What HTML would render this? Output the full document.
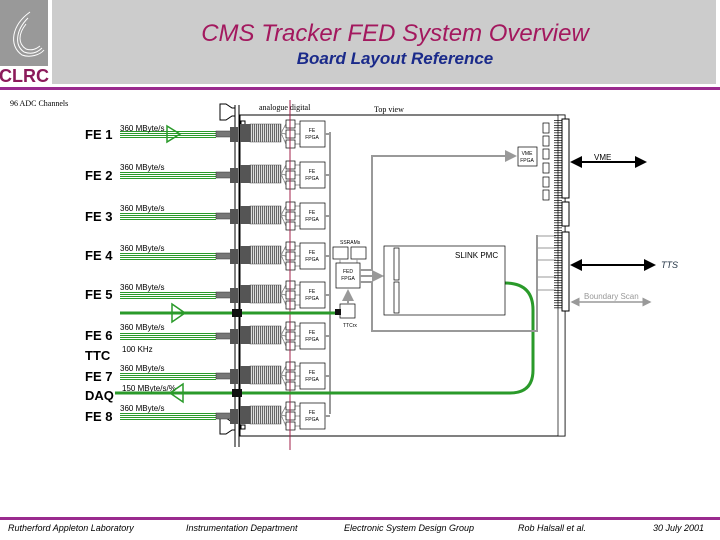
<!DOCTYPE html>
<html><head><meta charset="utf-8"><style>
body{margin:0;background:#fff;}
svg{display:block;font-family:"Liberation Sans",sans-serif;}
.g line{shape-rendering:crispEdges;}
</style></head><body>
<svg width="720" height="540" viewBox="0 0 720 540" xmlns="http://www.w3.org/2000/svg">
<defs>
<pattern id="hatch" width="2" height="4" patternUnits="userSpaceOnUse"><rect width="2" height="4" fill="#ddd"/><rect width="1" height="4" fill="#666"/></pattern>
<pattern id="ticks" width="8" height="2.5" patternUnits="userSpaceOnUse"><rect width="8" height="0.7" fill="#000"/></pattern>
<marker id="ag" markerWidth="6" markerHeight="6" refX="5" refY="3" orient="auto"><path d="M0,0L6,3L0,6z" fill="#999"/></marker>
<marker id="ak" markerWidth="6" markerHeight="6" refX="5" refY="3" orient="auto-start-reverse"><path d="M0,0L6,3L0,6z" fill="#000"/></marker>
<marker id="ag2" markerWidth="6" markerHeight="6" refX="5" refY="3" orient="auto-start-reverse"><path d="M0,0L6,3L0,6z" fill="#999"/></marker>
</defs>
<!-- header -->
<rect x="52" y="0" width="664" height="84" fill="#cccccc"/>
<rect x="0" y="0" width="48" height="66" fill="#999"/>
<g fill="none" stroke="#fff" stroke-width="1">
<path d="M30,12 C12,25 8,45 22,55 C30,58 40,55 44,50"/>
<path d="M28,18 C16,30 14,45 24,52 C32,55 38,52 42,48"/>
<path d="M26,24 C18,34 18,44 26,49 C32,51 36,49 40,46"/>
</g>
<text x="24" y="82" font-size="18" font-weight="bold" fill="#8b1a5a" text-anchor="middle">CLRC</text>
<text x="395" y="41" font-size="24" font-style="italic" fill="#a3185e" text-anchor="middle">CMS Tracker FED System Overview</text>
<text x="395" y="64" font-size="17" font-weight="bold" font-style="italic" fill="#1a2a8a" text-anchor="middle">Board Layout Reference</text>
<rect x="0" y="87" width="720" height="3" fill="#9a2a8e"/>
<text x="10" y="106" font-size="8" font-family="Liberation Serif,serif">96 ADC Channels</text>
<text x="259" y="110" font-size="8" font-family="Liberation Serif,serif">analogue  digital</text>
<text x="374" y="112" font-size="8" font-family="Liberation Serif,serif">Top view</text>
<!-- board -->
<rect x="240" y="115" width="325" height="321" fill="none" stroke="#000" stroke-width="1"/>
<line x1="235" y1="105" x2="235" y2="447" stroke="#000"/><line x1="239" y1="105" x2="239" y2="447" stroke="#000"/>
<path d="M220,104h6l6,4h3v8h-3l-6,4h-6z" fill="#fff" stroke="#000"/>
<path d="M220,418h6l6,4h3v8h-3l-6,4h-6z" fill="#fff" stroke="#000"/>
<rect x="241" y="121" width="4" height="4" fill="none" stroke="#000"/>
<rect x="241" y="425" width="4" height="4" fill="none" stroke="#000"/>
<line x1="330" y1="132" x2="330" y2="414" stroke="#999" stroke-width="2"/>
<!-- rows -->
<g class="g">
<g><line x1="120" x2="216" y1="131.5" y2="131.5" stroke="#2a9a2a"/><line x1="120" x2="216" y1="133.5" y2="133.5" stroke="#2a9a2a"/><line x1="120" x2="216" y1="135.5" y2="135.5" stroke="#2a9a2a"/><line x1="120" x2="216" y1="137.5" y2="137.5" stroke="#2a9a2a"/><rect x="216" y="131" width="16" height="6" fill="#777" stroke="#333" stroke-width=".5"/><rect x="230" y="127" width="8" height="15" fill="#555"/><rect x="240" y="124" width="10" height="18" fill="#555"/><rect x="250" y="124" width="31" height="18" fill="url(#hatch)" stroke="#555" stroke-width=".5"/><g stroke="#999"><line x1="281" x2="286" y1="133" y2="124"/><line x1="281" x2="286" y1="133" y2="134"/><line x1="281" x2="286" y1="133" y2="144"/><line x1="295" x2="300" y1="124" y2="124"/><line x1="295" x2="300" y1="134" y2="134"/><line x1="295" x2="300" y1="144" y2="144"/></g><g fill="#fff" stroke="#000" stroke-width=".7"><rect x="286" y="120" width="9" height="8"/><rect x="286" y="130" width="9" height="8"/><rect x="286" y="140" width="9" height="8"/></g><rect x="300" y="121" width="25" height="26" fill="#fff" stroke="#000" stroke-width=".7"/><text x="312" y="132" font-size="5" text-anchor="middle">FE</text><text x="312" y="139" font-size="5" text-anchor="middle">FPGA</text><line x1="325" x2="330" y1="134" y2="134" stroke="#999" stroke-width="2"/></g>
<g transform="translate(0,41)"><line x1="120" x2="216" y1="131.5" y2="131.5" stroke="#2a9a2a"/><line x1="120" x2="216" y1="133.5" y2="133.5" stroke="#2a9a2a"/><line x1="120" x2="216" y1="135.5" y2="135.5" stroke="#2a9a2a"/><line x1="120" x2="216" y1="137.5" y2="137.5" stroke="#2a9a2a"/><rect x="216" y="131" width="16" height="6" fill="#777" stroke="#333" stroke-width=".5"/><rect x="230" y="127" width="8" height="15" fill="#555"/><rect x="240" y="124" width="10" height="18" fill="#555"/><rect x="250" y="124" width="31" height="18" fill="url(#hatch)" stroke="#555" stroke-width=".5"/><g stroke="#999"><line x1="281" x2="286" y1="133" y2="124"/><line x1="281" x2="286" y1="133" y2="134"/><line x1="281" x2="286" y1="133" y2="144"/><line x1="295" x2="300" y1="124" y2="124"/><line x1="295" x2="300" y1="134" y2="134"/><line x1="295" x2="300" y1="144" y2="144"/></g><g fill="#fff" stroke="#000" stroke-width=".7"><rect x="286" y="120" width="9" height="8"/><rect x="286" y="130" width="9" height="8"/><rect x="286" y="140" width="9" height="8"/></g><rect x="300" y="121" width="25" height="26" fill="#fff" stroke="#000" stroke-width=".7"/><text x="312" y="132" font-size="5" text-anchor="middle">FE</text><text x="312" y="139" font-size="5" text-anchor="middle">FPGA</text><line x1="325" x2="330" y1="134" y2="134" stroke="#999" stroke-width="2"/></g>
<g transform="translate(0,82)"><line x1="120" x2="216" y1="131.5" y2="131.5" stroke="#2a9a2a"/><line x1="120" x2="216" y1="133.5" y2="133.5" stroke="#2a9a2a"/><line x1="120" x2="216" y1="135.5" y2="135.5" stroke="#2a9a2a"/><line x1="120" x2="216" y1="137.5" y2="137.5" stroke="#2a9a2a"/><rect x="216" y="131" width="16" height="6" fill="#777" stroke="#333" stroke-width=".5"/><rect x="230" y="127" width="8" height="15" fill="#555"/><rect x="240" y="124" width="10" height="18" fill="#555"/><rect x="250" y="124" width="31" height="18" fill="url(#hatch)" stroke="#555" stroke-width=".5"/><g stroke="#999"><line x1="281" x2="286" y1="133" y2="124"/><line x1="281" x2="286" y1="133" y2="134"/><line x1="281" x2="286" y1="133" y2="144"/><line x1="295" x2="300" y1="124" y2="124"/><line x1="295" x2="300" y1="134" y2="134"/><line x1="295" x2="300" y1="144" y2="144"/></g><g fill="#fff" stroke="#000" stroke-width=".7"><rect x="286" y="120" width="9" height="8"/><rect x="286" y="130" width="9" height="8"/><rect x="286" y="140" width="9" height="8"/></g><rect x="300" y="121" width="25" height="26" fill="#fff" stroke="#000" stroke-width=".7"/><text x="312" y="132" font-size="5" text-anchor="middle">FE</text><text x="312" y="139" font-size="5" text-anchor="middle">FPGA</text><line x1="325" x2="330" y1="134" y2="134" stroke="#999" stroke-width="2"/></g>
<g transform="translate(0,122)"><line x1="120" x2="216" y1="131.5" y2="131.5" stroke="#2a9a2a"/><line x1="120" x2="216" y1="133.5" y2="133.5" stroke="#2a9a2a"/><line x1="120" x2="216" y1="135.5" y2="135.5" stroke="#2a9a2a"/><line x1="120" x2="216" y1="137.5" y2="137.5" stroke="#2a9a2a"/><rect x="216" y="131" width="16" height="6" fill="#777" stroke="#333" stroke-width=".5"/><rect x="230" y="127" width="8" height="15" fill="#555"/><rect x="240" y="124" width="10" height="18" fill="#555"/><rect x="250" y="124" width="31" height="18" fill="url(#hatch)" stroke="#555" stroke-width=".5"/><g stroke="#999"><line x1="281" x2="286" y1="133" y2="124"/><line x1="281" x2="286" y1="133" y2="134"/><line x1="281" x2="286" y1="133" y2="144"/><line x1="295" x2="300" y1="124" y2="124"/><line x1="295" x2="300" y1="134" y2="134"/><line x1="295" x2="300" y1="144" y2="144"/></g><g fill="#fff" stroke="#000" stroke-width=".7"><rect x="286" y="120" width="9" height="8"/><rect x="286" y="130" width="9" height="8"/><rect x="286" y="140" width="9" height="8"/></g><rect x="300" y="121" width="25" height="26" fill="#fff" stroke="#000" stroke-width=".7"/><text x="312" y="132" font-size="5" text-anchor="middle">FE</text><text x="312" y="139" font-size="5" text-anchor="middle">FPGA</text><line x1="325" x2="330" y1="134" y2="134" stroke="#999" stroke-width="2"/></g>
<g transform="translate(0,161)"><line x1="120" x2="216" y1="131.5" y2="131.5" stroke="#2a9a2a"/><line x1="120" x2="216" y1="133.5" y2="133.5" stroke="#2a9a2a"/><line x1="120" x2="216" y1="135.5" y2="135.5" stroke="#2a9a2a"/><line x1="120" x2="216" y1="137.5" y2="137.5" stroke="#2a9a2a"/><rect x="216" y="131" width="16" height="6" fill="#777" stroke="#333" stroke-width=".5"/><rect x="230" y="127" width="8" height="15" fill="#555"/><rect x="240" y="124" width="10" height="18" fill="#555"/><rect x="250" y="124" width="31" height="18" fill="url(#hatch)" stroke="#555" stroke-width=".5"/><g stroke="#999"><line x1="281" x2="286" y1="133" y2="124"/><line x1="281" x2="286" y1="133" y2="134"/><line x1="281" x2="286" y1="133" y2="144"/><line x1="295" x2="300" y1="124" y2="124"/><line x1="295" x2="300" y1="134" y2="134"/><line x1="295" x2="300" y1="144" y2="144"/></g><g fill="#fff" stroke="#000" stroke-width=".7"><rect x="286" y="120" width="9" height="8"/><rect x="286" y="130" width="9" height="8"/><rect x="286" y="140" width="9" height="8"/></g><rect x="300" y="121" width="25" height="26" fill="#fff" stroke="#000" stroke-width=".7"/><text x="312" y="132" font-size="5" text-anchor="middle">FE</text><text x="312" y="139" font-size="5" text-anchor="middle">FPGA</text><line x1="325" x2="330" y1="134" y2="134" stroke="#999" stroke-width="2"/></g>
<g transform="translate(0,202)"><line x1="120" x2="216" y1="131.5" y2="131.5" stroke="#2a9a2a"/><line x1="120" x2="216" y1="133.5" y2="133.5" stroke="#2a9a2a"/><line x1="120" x2="216" y1="135.5" y2="135.5" stroke="#2a9a2a"/><line x1="120" x2="216" y1="137.5" y2="137.5" stroke="#2a9a2a"/><rect x="216" y="131" width="16" height="6" fill="#777" stroke="#333" stroke-width=".5"/><rect x="230" y="127" width="8" height="15" fill="#555"/><rect x="240" y="124" width="10" height="18" fill="#555"/><rect x="250" y="124" width="31" height="18" fill="url(#hatch)" stroke="#555" stroke-width=".5"/><g stroke="#999"><line x1="281" x2="286" y1="133" y2="124"/><line x1="281" x2="286" y1="133" y2="134"/><line x1="281" x2="286" y1="133" y2="144"/><line x1="295" x2="300" y1="124" y2="124"/><line x1="295" x2="300" y1="134" y2="134"/><line x1="295" x2="300" y1="144" y2="144"/></g><g fill="#fff" stroke="#000" stroke-width=".7"><rect x="286" y="120" width="9" height="8"/><rect x="286" y="130" width="9" height="8"/><rect x="286" y="140" width="9" height="8"/></g><rect x="300" y="121" width="25" height="26" fill="#fff" stroke="#000" stroke-width=".7"/><text x="312" y="132" font-size="5" text-anchor="middle">FE</text><text x="312" y="139" font-size="5" text-anchor="middle">FPGA</text><line x1="325" x2="330" y1="134" y2="134" stroke="#999" stroke-width="2"/></g>
<g transform="translate(0,242)"><line x1="120" x2="216" y1="131.5" y2="131.5" stroke="#2a9a2a"/><line x1="120" x2="216" y1="133.5" y2="133.5" stroke="#2a9a2a"/><line x1="120" x2="216" y1="135.5" y2="135.5" stroke="#2a9a2a"/><line x1="120" x2="216" y1="137.5" y2="137.5" stroke="#2a9a2a"/><rect x="216" y="131" width="16" height="6" fill="#777" stroke="#333" stroke-width=".5"/><rect x="230" y="127" width="8" height="15" fill="#555"/><rect x="240" y="124" width="10" height="18" fill="#555"/><rect x="250" y="124" width="31" height="18" fill="url(#hatch)" stroke="#555" stroke-width=".5"/><g stroke="#999"><line x1="281" x2="286" y1="133" y2="124"/><line x1="281" x2="286" y1="133" y2="134"/><line x1="281" x2="286" y1="133" y2="144"/><line x1="295" x2="300" y1="124" y2="124"/><line x1="295" x2="300" y1="134" y2="134"/><line x1="295" x2="300" y1="144" y2="144"/></g><g fill="#fff" stroke="#000" stroke-width=".7"><rect x="286" y="120" width="9" height="8"/><rect x="286" y="130" width="9" height="8"/><rect x="286" y="140" width="9" height="8"/></g><rect x="300" y="121" width="25" height="26" fill="#fff" stroke="#000" stroke-width=".7"/><text x="312" y="132" font-size="5" text-anchor="middle">FE</text><text x="312" y="139" font-size="5" text-anchor="middle">FPGA</text><line x1="325" x2="330" y1="134" y2="134" stroke="#999" stroke-width="2"/></g>
<g transform="translate(0,282)"><line x1="120" x2="216" y1="131.5" y2="131.5" stroke="#2a9a2a"/><line x1="120" x2="216" y1="133.5" y2="133.5" stroke="#2a9a2a"/><line x1="120" x2="216" y1="135.5" y2="135.5" stroke="#2a9a2a"/><line x1="120" x2="216" y1="137.5" y2="137.5" stroke="#2a9a2a"/><rect x="216" y="131" width="16" height="6" fill="#777" stroke="#333" stroke-width=".5"/><rect x="230" y="127" width="8" height="15" fill="#555"/><rect x="240" y="124" width="10" height="18" fill="#555"/><rect x="250" y="124" width="31" height="18" fill="url(#hatch)" stroke="#555" stroke-width=".5"/><g stroke="#999"><line x1="281" x2="286" y1="133" y2="124"/><line x1="281" x2="286" y1="133" y2="134"/><line x1="281" x2="286" y1="133" y2="144"/><line x1="295" x2="300" y1="124" y2="124"/><line x1="295" x2="300" y1="134" y2="134"/><line x1="295" x2="300" y1="144" y2="144"/></g><g fill="#fff" stroke="#000" stroke-width=".7"><rect x="286" y="120" width="9" height="8"/><rect x="286" y="130" width="9" height="8"/><rect x="286" y="140" width="9" height="8"/></g><rect x="300" y="121" width="25" height="26" fill="#fff" stroke="#000" stroke-width=".7"/><text x="312" y="132" font-size="5" text-anchor="middle">FE</text><text x="312" y="139" font-size="5" text-anchor="middle">FPGA</text><line x1="325" x2="330" y1="134" y2="134" stroke="#999" stroke-width="2"/></g>
</g>
<line x1="290" y1="100" x2="290" y2="450" stroke="#a0204a"/>
<g font-size="13" font-weight="bold">
<text x="85" y="139">FE 1</text><text x="85" y="180">FE 2</text><text x="85" y="221">FE 3</text><text x="85" y="260">FE 4</text><text x="85" y="299">FE 5</text><text x="85" y="340">FE 6</text><text x="85" y="360">TTC</text><text x="85" y="381">FE 7</text><text x="85" y="400">DAQ</text><text x="85" y="421">FE 8</text>
</g>
<g font-size="8">
<text x="120" y="131">360 MByte/s</text><text x="120" y="170">360 MByte/s</text><text x="120" y="211">360 MByte/s</text><text x="120" y="251">360 MByte/s</text><text x="120" y="290">360 MByte/s</text><text x="120" y="330">360 MByte/s</text><text x="122" y="352">100 KHz</text><text x="120" y="371">360 MByte/s</text><text x="122" y="391">150 MByte/s/%</text><text x="120" y="411">360 MByte/s</text>
</g>
<!-- green arrows -->
<path d="M167,126 L180,134 L167,142z" fill="none" stroke="#2a9a2a" stroke-width="1.5"/>
<line x1="120" y1="313" x2="335" y2="313" stroke="#2a9a2a" stroke-width="3"/>
<path d="M172,304 L185,313 L172,322z" fill="none" stroke="#2a9a2a" stroke-width="1.5"/>
<rect x="232" y="309" width="10" height="8" fill="#111"/>
<path d="M115,393 H510 Q533,393 533,370 V310 Q533,283 505,283" fill="none" stroke="#2a9a2a" stroke-width="3"/>
<path d="M183,384 L170,393 L183,402z" fill="none" stroke="#2a9a2a" stroke-width="1.5"/>
<rect x="232" y="389" width="10" height="8" fill="#111"/>
<!-- FED section -->
<rect x="333" y="247" width="15" height="12" fill="#fff" stroke="#000" stroke-width=".7"/>
<rect x="351" y="247" width="15" height="12" fill="#fff" stroke="#000" stroke-width=".7"/>
<text x="340" y="244" font-size="5">SSRAMs</text>
<line x1="340" y1="259" x2="340" y2="263" stroke="#999"/><line x1="357" y1="259" x2="357" y2="263" stroke="#999"/>
<rect x="336" y="263" width="24" height="25" fill="#fff" stroke="#000" stroke-width=".7"/>
<text x="348" y="273" font-size="5" text-anchor="middle">FED</text><text x="348" y="280" font-size="5" text-anchor="middle">FPGA</text>
<line x1="360" y1="276" x2="382" y2="276" stroke="#999" stroke-width="2" marker-end="url(#ag)"/>
<rect x="340" y="304" width="15" height="14" fill="#fff" stroke="#000" stroke-width=".7"/>
<rect x="335" y="309" width="6" height="6" fill="#111"/>
<text x="343" y="327" font-size="5">TTCrx</text>
<line x1="348" y1="304" x2="348" y2="291" stroke="#999" stroke-width="2" marker-end="url(#ag)"/>
<rect x="384" y="246" width="121" height="69" fill="#fff" stroke="#000" stroke-width=".7"/>
<rect x="394" y="248" width="5" height="32" fill="#fff" stroke="#000" stroke-width=".7"/>
<rect x="394" y="282" width="5" height="31" fill="#fff" stroke="#000" stroke-width=".7"/>
<text x="455" y="258" font-size="8">SLINK PMC</text>
<!-- gray routing -->
<path d="M360,270 H372 V156 H515" fill="none" stroke="#999" stroke-width="2" marker-end="url(#ag)"/>
<path d="M360,282 H372 V331 H537 V235" fill="none" stroke="#999" stroke-width="2"/>
<g stroke="#999" stroke-width="1"><line x1="537" y1="236" x2="556" y2="236"/><line x1="537" y1="248" x2="556" y2="248"/><line x1="537" y1="260" x2="556" y2="260"/><line x1="537" y1="277" x2="556" y2="277"/><line x1="537" y1="290" x2="556" y2="290"/></g>
<rect x="518" y="147" width="19" height="19" fill="#fff" stroke="#000" stroke-width=".7"/>
<text x="527" y="155" font-size="5" text-anchor="middle">VME</text><text x="527" y="162" font-size="5" text-anchor="middle">FPGA</text>
<g fill="#fff" stroke="#000" stroke-width=".7">
<rect x="543" y="123" width="6" height="10"/><rect x="543" y="136" width="6" height="10"/><rect x="543" y="149" width="6" height="10"/><rect x="543" y="163" width="6" height="10"/><rect x="543" y="177" width="6" height="10"/><rect x="543" y="190" width="6" height="10"/>
</g>
<!-- connectors -->
<rect x="558" y="115" width="7" height="321" fill="#fff" stroke="#000" stroke-width=".7"/>
<rect x="554" y="120" width="8" height="190" fill="url(#ticks)"/>
<rect x="562" y="119" width="7" height="79" fill="#fff" stroke="#000"/>
<rect x="562" y="202" width="7" height="24" fill="#fff" stroke="#000"/>
<rect x="562" y="232" width="7" height="79" fill="#fff" stroke="#000"/>
<line x1="572" y1="162" x2="645" y2="162" stroke="#000" stroke-width="2" marker-start="url(#ak)" marker-end="url(#ak)"/>
<text x="594" y="160" font-size="8">VME</text>
<line x1="572" y1="265" x2="654" y2="265" stroke="#000" stroke-width="2" marker-start="url(#ak)" marker-end="url(#ak)"/>
<text x="661" y="268" font-size="9" font-style="italic" fill="#234">TTS</text>
<line x1="572" y1="302" x2="650" y2="302" stroke="#999" stroke-width="1.5" marker-start="url(#ag2)" marker-end="url(#ag2)"/>
<text x="584" y="299" font-size="8" fill="#999">Boundary Scan</text>
<!-- footer -->
<rect x="0" y="517" width="720" height="3" fill="#9a2a8e"/>
<g font-size="9" font-style="italic">
<text x="8" y="531">Rutherford Appleton Laboratory</text>
<text x="186" y="531">Instrumentation Department</text>
<text x="344" y="531">Electronic System Design Group</text>
<text x="518" y="531">Rob Halsall et al.</text>
<text x="653" y="531">30 July 2001</text>
</g>
</svg>
</body></html>
